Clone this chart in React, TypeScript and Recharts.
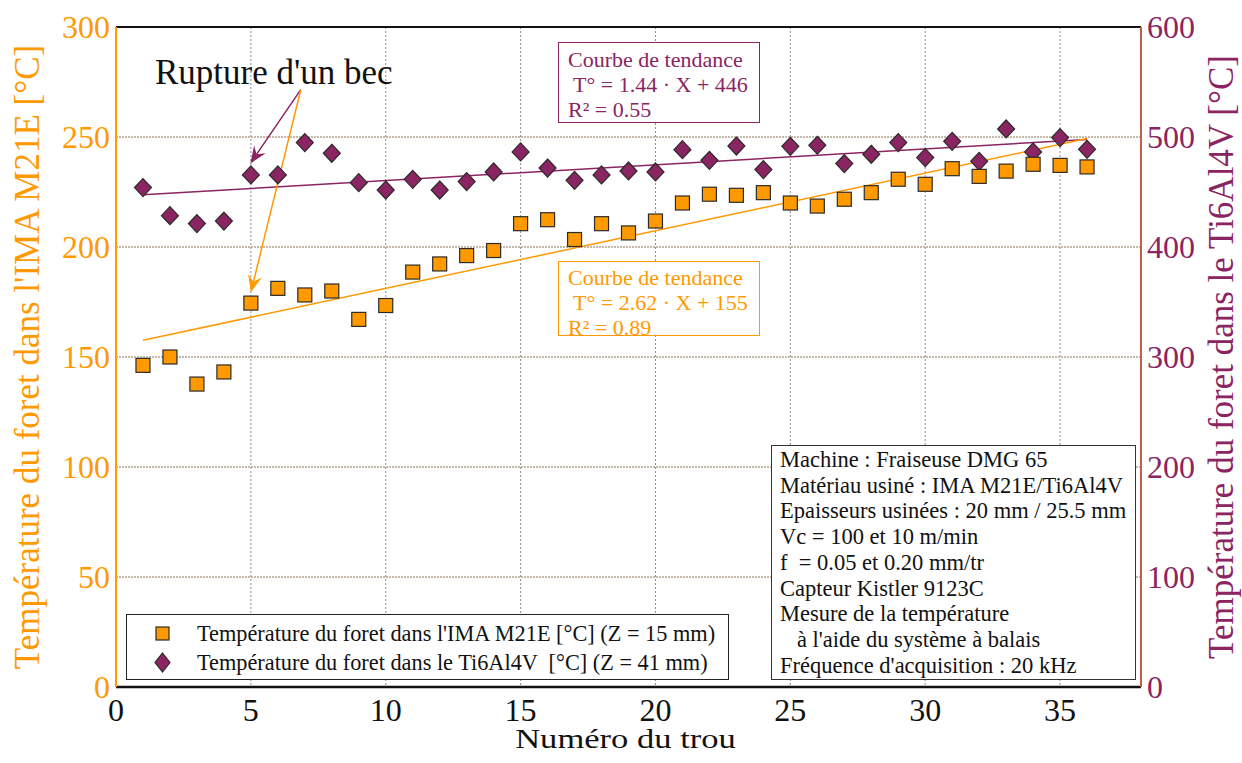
import React from 'react'
import {
  ComposedChart,
  Scatter,
  XAxis,
  YAxis,
  CartesianGrid,
  ReferenceLine,
  Legend,
} from 'recharts'

// numéros de trou
const trous = [
  1, 2, 3, 4, 5, 6, 7, 8, 9, 10, 11, 12, 13, 14, 15, 16, 17, 18,
  19, 20, 21, 22, 23, 24, 25, 26, 27, 28, 29, 30, 31, 32, 33, 34, 35, 36,
]

// température dans l'IMA M21E (axe gauche)
const tempIma = [
  146.2, 150.0, 137.7, 143.2, 174.5, 181.2, 178.2, 180.0, 167.1, 173.4, 188.6, 192.3,
  196.1, 198.4, 210.6, 212.4, 203.4, 210.6, 206.4, 211.8, 220.0, 224.0, 223.5, 224.7,
  220.0, 218.6, 221.7, 224.7, 230.8, 228.5, 235.6, 232.1, 234.5, 237.6, 237.1, 236.4,
]

// température dans le Ti6Al4V (axe droit)
const tempTi = [
  454.0, 428.5, 421.3, 423.6, 465.5, 465.5, 494.9, 485.2, 458.5, 451.8, 461.5, 451.8,
  459.5, 468.2, 486.4, 471.8, 460.6, 465.5, 469.1, 468.2, 488.5, 478.8, 491.8, 470.4,
  491.5, 492.5, 475.8, 484.3, 494.9, 481.3, 496.1, 477.9, 507.3, 486.4, 499.5, 488.8,
]

// courbes de tendance (extrémités)
const trendX = [1, 36]
const trendIma = [157.6, 249.3]
const trendTi = [447.4, 497.8]

// flèches "Rupture d'un bec" (axe gauche)
const arrowStart = { x: 6.85, y: 271.5 }
const arrowTi = { x: 4.98, y: 238.0 }
const arrowIma = { x: 5.0, y: 179.4 }

const xTicks = [0, 5, 10, 15, 20, 25, 30, 35]
const leftTicks = [0, 50, 100, 150, 200, 250, 300]
const rightTicks = [0, 100, 200, 300, 400, 500, 600]

const infoLines = [
  'Machine : Fraiseuse DMG 65',
  'Matériau usiné : IMA M21E/Ti6Al4V',
  'Epaisseurs usinées : 20 mm / 25.5 mm',
  'Vc = 100 et 10 m/min',
  'f  = 0.05 et 0.20 mm/tr',
  'Capteur Kistler 9123C',
  'Mesure de la température',
  '   à l\'aide du système à balais',
  'Fréquence d\'acquisition : 20 kHz',
]

const ORANGE = '#ff9900'
const PURPLE = '#8b2462'
const FONT = '"Liberation Serif", "Times New Roman", serif'

const data = trous.map((t, i) => ({ trou: t, ima: tempIma[i], ti: tempTi[i] }))

const Square = (props: any) => {
  const { cx, cy } = props
  if (cx == null || cy == null) return null
  return <rect x={cx - 7} y={cy - 7} width={14} height={14} fill={ORANGE} stroke="#2b2b2b" strokeWidth={1.2} />
}

const Diamond = (props: any) => {
  const { cx, cy } = props
  if (cx == null || cy == null) return null
  return (
    <polygon
      points={`${cx},${cy - 9} ${cx + 8.5},${cy} ${cx},${cy + 9} ${cx - 8.5},${cy}`}
      fill={PURPLE}
      stroke="#2b2b2b"
      strokeWidth={1.2}
    />
  )
}

const arrowShape = (color: string) => (props: any) => {
  const { x1, y1, x2, y2 } = props
  const a = Math.atan2(y2 - y1, x2 - x1)
  const ux = Math.cos(a)
  const uy = Math.sin(a)
  const len = 17
  const half = 7
  const notch = 11
  const bx = x2 - ux * len
  const by = y2 - uy * len
  const nx = x2 - ux * notch
  const ny = y2 - uy * notch
  const p1 = `${bx - uy * half},${by + ux * half}`
  const p2 = `${bx + uy * half},${by - ux * half}`
  return (
    <g>
      <line x1={x1} y1={y1} x2={nx} y2={ny} stroke={color} strokeWidth={1.5} />
      <polygon points={`${x2},${y2} ${p1} ${nx},${ny} ${p2}`} fill={color} />
    </g>
  )
}

const XTitle = (props: any) => {
  const { viewBox } = props
  const cx = viewBox.x + viewBox.width / 2 - 3
  return (
    <text transform={`translate(${cx}, 748) scale(1.28, 1)`} x={0} y={0} textAnchor="middle" fill="#111" fontSize={27} fontFamily={FONT}>
      Numéro du trou
    </text>
  )
}

const LeftTitle = (props: any) => {
  const { viewBox } = props
  const cy = viewBox.y + viewBox.height / 2
  return (
    <text x={39} y={cy} transform={`rotate(-90, 39, ${cy})`} textAnchor="middle" fill={ORANGE} fontSize={35} fontFamily={FONT}>
      Température du foret dans l'IMA M21E [°C]
    </text>
  )
}

const RightTitle = (props: any) => {
  const { viewBox } = props
  const cy = viewBox.y + viewBox.height / 2
  return (
    <text x={1233} y={cy} transform={`rotate(-90, 1233, ${cy})`} textAnchor="middle" fill={PURPLE} fontSize={35} fontFamily={FONT}>
      Température du foret dans le Ti6Al4V [°C]
    </text>
  )
}

const LegendBox = () => (
  <div
    style={{
      boxSizing: 'border-box',
      width: 603,
      height: 66,
      border: '1.5px solid #222',
      background: '#fff',
      fontFamily: FONT,
      fontSize: 22.3,
      color: '#111',
      padding: '4px 0 0 0',
    }}
  >
    <div style={{ display: 'flex', alignItems: 'center', height: 29 }}>
      <svg width={70} height={29}>
        <rect x={29} y={8} width={13} height={13} fill={ORANGE} stroke="#2b2b2b" strokeWidth={1.2} />
      </svg>
      <span style={{ whiteSpace: 'pre' }}>Température du foret dans l'IMA M21E [°C] (Z = 15 mm)</span>
    </div>
    <div style={{ display: 'flex', alignItems: 'center', height: 29 }}>
      <svg width={70} height={29}>
        <polygon points="35.5,5 43,14.5 35.5,24 28,14.5" fill={PURPLE} stroke="#2b2b2b" strokeWidth={1.2} />
      </svg>
      <span style={{ whiteSpace: 'pre' }}>Température du foret dans le Ti6Al4V  [°C] (Z = 41 mm)</span>
    </div>
  </div>
)

const boxText: React.CSSProperties = {
  position: 'absolute',
  boxSizing: 'border-box',
  background: '#fff',
  fontFamily: FONT,
  fontSize: 22,
  lineHeight: '25px',
  whiteSpace: 'pre',
}

export default function App() {
  return (
    <div style={{ position: 'absolute', left: 0, top: 0, width: 1242, height: 763, background: '#fff' }}>
      <ComposedChart width={1242} height={763} data={data} margin={{ top: 27, right: 0, bottom: 0, left: 0 }}>
        <CartesianGrid yAxisId="left" vertical={false} stroke="#8a7552" strokeDasharray="2 1" />
        <CartesianGrid yAxisId="left" horizontal={false} stroke="#8d8d8d" strokeDasharray="2 2" />
        <XAxis
          type="number"
          dataKey="trou"
          domain={[0, 38]}
          ticks={xTicks}
          allowDataOverflow
          height={76}
          tickLine={false}
          tickSize={10}
          tickMargin={1}
          axisLine={{ stroke: '#111', strokeWidth: 2.5 }}
          tick={{ fill: '#111', fontSize: 32, fontFamily: FONT }}
          label={<XTitle />}
        />
        <YAxis
          yAxisId="left"
          domain={[0, 300]}
          ticks={leftTicks}
          width={116}
          tickLine={false}
          tickSize={6}
          tickMargin={0}
          axisLine={{ stroke: ORANGE, strokeWidth: 2 }}
          tick={{ fill: ORANGE, fontSize: 32, fontFamily: FONT }}
          label={<LeftTitle />}
        />
        <YAxis
          yAxisId="right"
          orientation="right"
          domain={[0, 600]}
          ticks={rightTicks}
          width={101}
          tickLine={false}
          tickSize={6}
          tickMargin={0}
          axisLine={{ stroke: '#c0604a', strokeWidth: 2 }}
          tick={{ fill: PURPLE, fontSize: 32, fontFamily: FONT }}
          label={<RightTitle />}
        />
        <ReferenceLine yAxisId="left" y={300} stroke="#111" strokeWidth={2} />
        <ReferenceLine
          yAxisId="right"
          segment={[{ x: trendX[0], y: trendTi[0] }, { x: trendX[1], y: trendTi[1] }]}
          stroke={PURPLE}
          strokeWidth={1.5}
        />
        <ReferenceLine
          yAxisId="left"
          segment={[{ x: trendX[0], y: trendIma[0] }, { x: trendX[1], y: trendIma[1] }]}
          stroke={ORANGE}
          strokeWidth={1.5}
        />
        <Scatter yAxisId="right" dataKey="ti" name="Ti6Al4V" shape={Diamond} isAnimationActive={false} />
        <Scatter yAxisId="left" dataKey="ima" name="IMA M21E" shape={Square} isAnimationActive={false} />
        <ReferenceLine yAxisId="left" segment={[arrowStart, arrowTi]} shape={arrowShape(PURPLE)} />
        <ReferenceLine yAxisId="left" segment={[arrowStart, arrowIma]} shape={arrowShape(ORANGE)} />
        <Legend
          verticalAlign="middle"
          layout="horizontal"
          wrapperStyle={{ left: 126, top: 614, width: 603, height: 66 }}
          content={() => <LegendBox />}
        />
      </ComposedChart>

      <div style={{ position: 'absolute', left: 155, top: 53, fontFamily: FONT, fontSize: 35, color: '#111', whiteSpace: 'pre' }}>
        Rupture d'un bec
      </div>

      <div style={{ ...boxText, left: 558, top: 42, width: 202, height: 81, border: `1.2px solid ${PURPLE}`, color: PURPLE, padding: '4px 0 0 9px' }}>
        {'Courbe de tendance\n T° = 1.44 · X + 446\nR² = 0.55'}
      </div>

      <div style={{ ...boxText, left: 558, top: 261, width: 202, height: 75, border: `1.2px solid ${ORANGE}`, color: ORANGE, padding: '3px 0 0 9px' }}>
        {'Courbe de tendance\n T° = 2.62 · X + 155\nR² = 0.89'}
      </div>

      <div style={{ ...boxText, left: 771, top: 445, width: 365, height: 235, border: '1.5px solid #333', color: '#111', padding: '1px 0 0 8px', fontSize: 22.5, lineHeight: '25.7px' }}>
        {infoLines.join('\n')}
      </div>
    </div>
  )
}
